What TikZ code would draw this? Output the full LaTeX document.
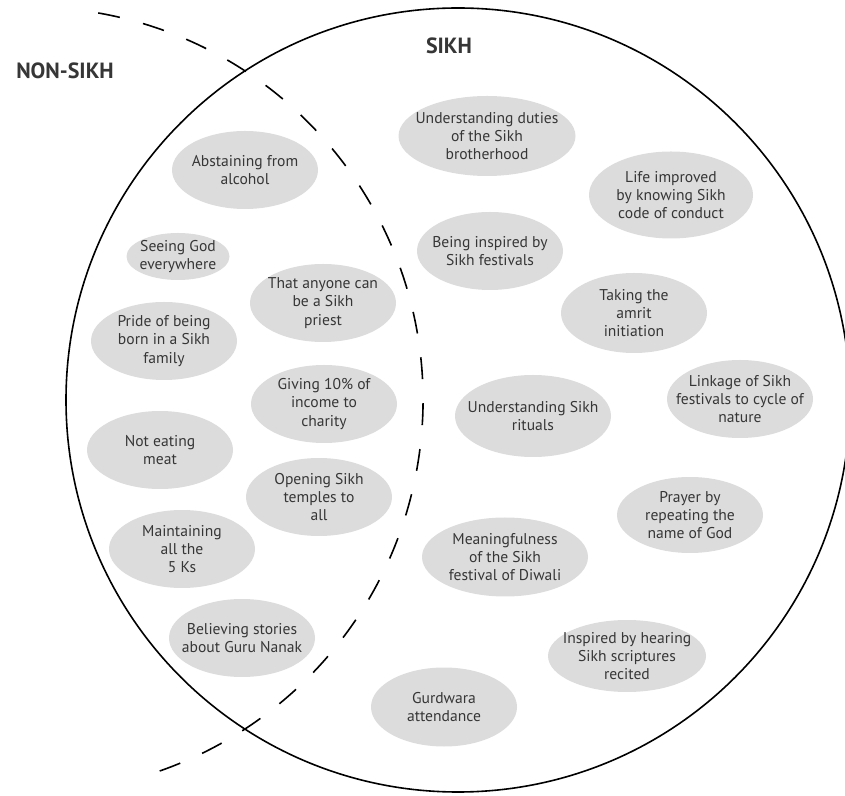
\documentclass[tikz,border=0pt]{standalone}
\usepackage{fontspec}
\setmainfont{PT Sans}
\usetikzlibrary{positioning,shapes.geometric}

\definecolor{bubblegray}{HTML}{DCDCDC}
\definecolor{inkgray}{HTML}{363636}

\tikzset{
  belief/.style={ellipse, fill=bubblegray, text=inkgray, align=center,
    inner xsep=-16pt, inner ysep=-5pt,
    minimum width=146pt, minimum height=78pt,
    font=\fontsize{15.6}{18.4}\selectfont},
  group/.style={text=inkgray, font=\bfseries\fontsize{22}{26}\selectfont},
  border/.style={line width=1.6pt},
}

\begin{document}
\begin{tikzpicture}[x=1pt, y=1pt, on grid]
\useasboundingbox (0,0) rectangle (845,795);
\clip (0,0) rectangle (845,795);

% the two circles
\coordinate (sikhc) at (458,395);
\coordinate (nonc) at (30,395);
\draw [border] (sikhc) circle [radius=392];
\draw [border, dash pattern=on 22pt off 24pt]
  ([shift={(80:393)}]nonc) arc [start angle=80, end angle=-72, radius=393];

% left side
\node [belief] (abst) at (245,625) {Abstaining from\\alcohol};
\node [belief, minimum width=103pt, minimum height=47pt,
  below left=86.5pt and 67pt of abst] (seeing) {Seeing God\\everywhere};
\node [belief, below left=84.5pt and 14pt of seeing] (pride) {Pride of being\\born in a Sikh\\family};
\node [belief, below left=109pt and 4pt of pride] (noteat) {Not eating\\meat};
\node [belief, below right=99pt and 22pt of noteat] (maint) {Maintaining\\all the\\5 Ks};
\node [belief, below right=89pt and 60pt of maint] (believ) {Believing stories\\about Guru Nanak};

% overlap
\node [belief, below right=133pt and 78pt of abst] (anyone) {That anyone can\\be a Sikh\\priest};
\node [belief, below right=101pt and 1pt of anyone] (giving) {Giving 10\% of\\income to\\charity};
\node [belief, below left=93pt and 5pt of giving] (opening) {Opening Sikh\\temples to\\all};

% right side
\node [belief, minimum width=177pt, minimum height=80pt,
  above right=34pt and 242pt of abst] (duties) {Understanding duties\\of the Sikh\\brotherhood};
\node [belief, below right=115pt and 3pt of duties] (festivals) {Being inspired by\\Sikh festivals};
\node [belief, minimum width=164pt, minimum height=87pt,
  below right=59pt and 184pt of duties] (life) {Life improved\\by knowing Sikh\\code of conduct};
\node [belief, minimum height=80pt, below left=118pt and 37pt of life] (amrit) {Taking the\\amrit\\initiation};
\node [belief, minimum width=156pt, minimum height=82pt,
  below left=103pt and 101pt of amrit] (rituals) {Understanding Sikh\\rituals};
\node [belief, below right=86pt and 106pt of amrit] (linkage) {Linkage of Sikh\\festivals to cycle of\\nature};
\node [belief, minimum height=76pt, below left=116pt and 50pt of linkage] (prayer) {Prayer by\\repeating the\\name of God};
\node [belief, minimum width=166pt, minimum height=79pt,
  below left=141pt and 28pt of rituals] (meaning) {Meaningfulness\\of the Sikh\\festival of Diwali};
\node [belief, minimum width=158pt, minimum height=72pt,
  below right=99pt and 122pt of meaning] (inspired) {Inspired by hearing\\Sikh scriptures\\recited};
\node [belief, minimum height=79pt, below left=150pt and 61pt of meaning] (gurd) {Gurdwara\\attendance};

% headings
\node [group, above left=90pt and 38pt of duties] (sikh) {SIKH};
\node [group, above left=99pt and 180pt of abst] (nonsikh) {NON-SIKH};
\end{tikzpicture}
\end{document}
